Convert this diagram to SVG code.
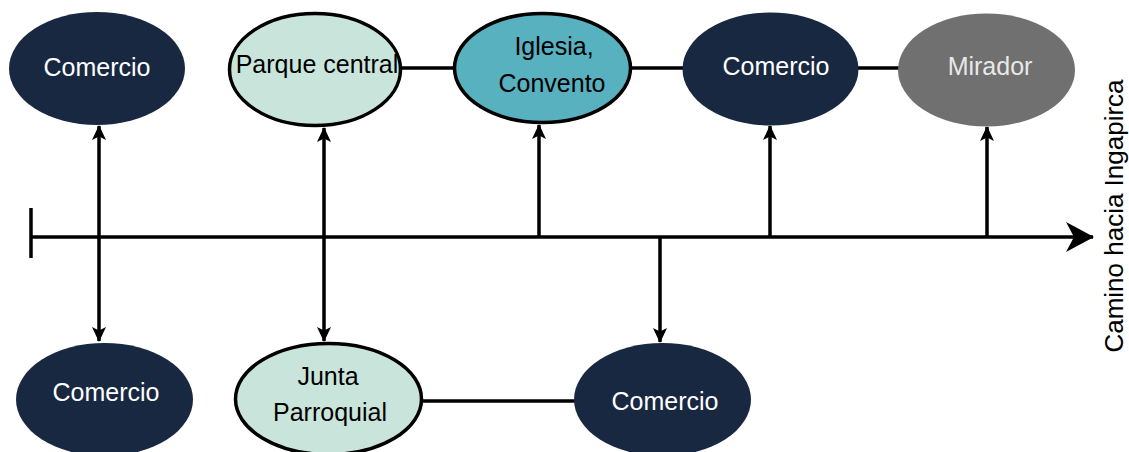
<svg xmlns="http://www.w3.org/2000/svg" width="1129" height="452" viewBox="0 0 1129 452">
<style>
  .lbl { font-family: "Liberation Sans", Arial, Helvetica, sans-serif; font-size: 25px; text-anchor: middle; }
  .dark { fill: #192841; }
  .mint { fill: #C9E5DB; stroke: #000; stroke-width: 3.5; }
  .teal { fill: #57B1BF; stroke: #000; stroke-width: 3.5; }
  .gray { fill: #707070; }
  .wt { fill: #FFFFFF; }
  .lt { fill: #E8E8E8; }
  .bk { fill: #000000; }
  .ln { stroke: #000; stroke-width: 3.5; fill: none; }
</style>
<defs>
  <marker id="arr" markerUnits="userSpaceOnUse" viewBox="0 0 15 15" refX="14" refY="7.5" markerWidth="15" markerHeight="15" orient="auto-start-reverse">
    <path d="M0,0.5 L15,7.5 L0,14.5 L3.5,7.5 Z" fill="#000"/>
  </marker>
  <marker id="big" markerUnits="userSpaceOnUse" viewBox="0 0 28 30" refX="27" refY="15" markerWidth="28" markerHeight="30" orient="auto">
    <path d="M0,0 L28,15 L0,30 L8,15 Z" fill="#000"/>
  </marker>
</defs>
<rect width="1129" height="452" fill="#FFFFFF"/>

<g id="connectors">
  <line class="ln" x1="402" y1="68" x2="453" y2="68"/>
  <line class="ln" x1="632" y1="68" x2="683" y2="68"/>
  <line class="ln" x1="858" y1="68" x2="899" y2="68"/>
  <line class="ln" x1="423" y1="401" x2="575" y2="401"/>
  <line class="ln" x1="31" y1="237" x2="1093" y2="237" marker-end="url(#big)"/>
  <line class="ln" x1="31" y1="208" x2="31" y2="258"/>
  <line class="ln" x1="99" y1="126" x2="99" y2="341" marker-start="url(#arr)" marker-end="url(#arr)"/>
  <line class="ln" x1="324" y1="128" x2="324" y2="341" marker-start="url(#arr)" marker-end="url(#arr)"/>
  <line class="ln" x1="539" y1="237" x2="539" y2="125" marker-end="url(#arr)"/>
  <line class="ln" x1="770" y1="237" x2="770" y2="126" marker-end="url(#arr)"/>
  <line class="ln" x1="987" y1="237" x2="987" y2="127" marker-end="url(#arr)"/>
  <line class="ln" x1="660" y1="237" x2="660" y2="342" marker-end="url(#arr)"/>
</g>

<g id="comercio-1">
  <ellipse class="dark" cx="97" cy="68.5" rx="88" ry="56.5"/>
  <text class="lbl wt" x="97" y="76">Comercio</text>
</g>
<g id="parque-central">
  <ellipse class="mint" cx="315" cy="69.5" rx="85.5" ry="56"/>
  <text class="lbl bk" x="317" y="73">Parque central</text>
</g>
<g id="iglesia-convento">
  <ellipse class="teal" cx="542.5" cy="68" rx="88" ry="54.5"/>
  <text class="lbl bk" x="554" y="55">Iglesia,</text>
  <text class="lbl bk" x="552" y="92">Convento</text>
</g>
<g id="comercio-2">
  <ellipse class="dark" cx="770.5" cy="69" rx="88" ry="56.5"/>
  <text class="lbl wt" x="776" y="75">Comercio</text>
</g>
<g id="mirador">
  <ellipse class="gray" cx="986.5" cy="70" rx="88.5" ry="56.5"/>
  <text class="lbl lt" x="990" y="75">Mirador</text>
</g>
<g id="comercio-3">
  <ellipse class="dark" cx="104.5" cy="399.5" rx="88.5" ry="56.5"/>
  <text class="lbl wt" x="106" y="401">Comercio</text>
</g>
<g id="junta-parroquial">
  <ellipse class="mint" cx="328.5" cy="399" rx="93" ry="55.5"/>
  <text class="lbl bk" x="328" y="385">Junta</text>
  <text class="lbl bk" x="330" y="421">Parroquial</text>
</g>
<g id="comercio-4">
  <ellipse class="dark" cx="662.5" cy="399.5" rx="88.5" ry="56.5"/>
  <text class="lbl wt" x="665" y="410">Comercio</text>
</g>
<g id="camino-label">
  <text class="lbl bk" transform="translate(1123,216) rotate(-90)" x="0" y="0" style="font-size:26px">Camino hacia Ingapirca</text>
</g>
</svg>
